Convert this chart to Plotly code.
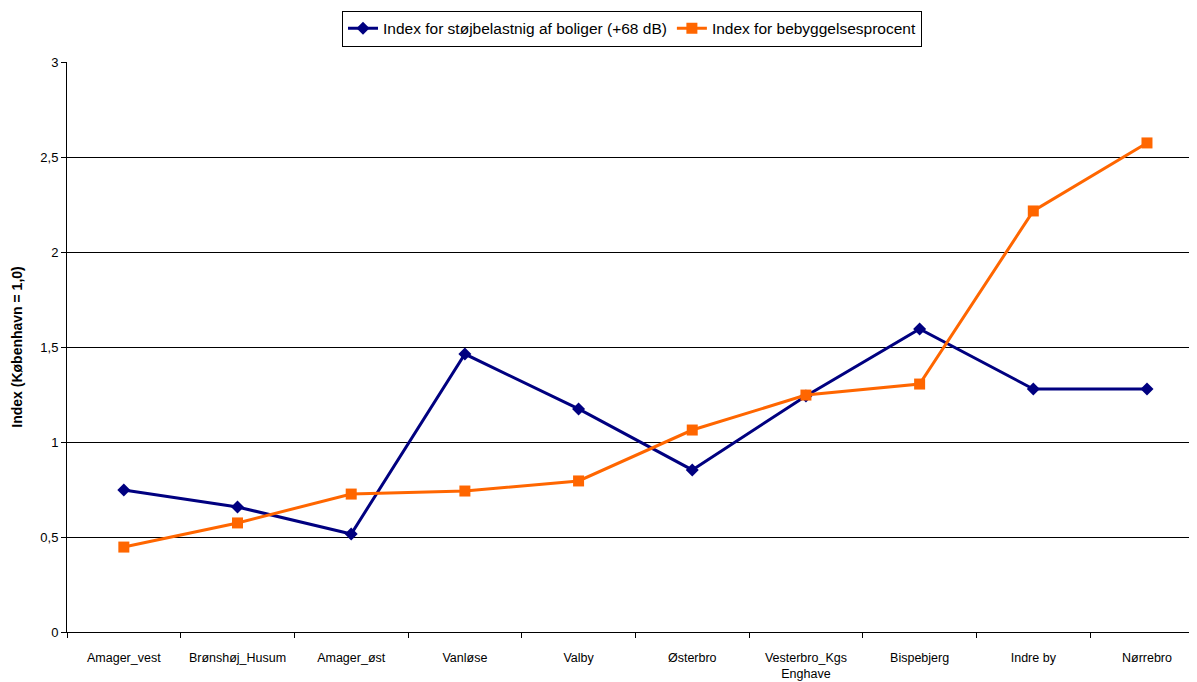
import plotly.graph_objects as go

categories = ["Amager_vest", "Brønshøj_Husum", "Amager_øst", "Vanløse", "Valby",
              "Østerbro", "Vesterbro_Kgs<br>Enghave", "Bispebjerg", "Indre by", "Nørrebro"]
noise_index = [0.747, 0.658, 0.516, 1.463, 1.174, 0.853, 1.242, 1.595, 1.279, 1.279]
density_index = [0.447, 0.574, 0.726, 0.742, 0.795, 1.063, 1.247, 1.305, 2.216, 2.574]
y_ticks = [0, 0.5, 1, 1.5, 2, 2.5, 3]
y_tick_text = ["0", "0,5", "1", "1,5", "2", "2,5", "3"]

fig = go.Figure()
fig.add_trace(go.Scatter(
    x=categories, y=noise_index, mode="lines+markers",
    name="Index for støjbelastnig af boliger (+68 dB)",
    line=dict(color="#000080", width=3),
    marker=dict(symbol="diamond", size=10, color="#000080"),
))
fig.add_trace(go.Scatter(
    x=categories, y=density_index, mode="lines+markers",
    name="Index for bebyggelsesprocent",
    line=dict(color="#FF6600", width=3),
    marker=dict(symbol="square", size=11, color="#FF6600"),
))

fig.update_layout(
    width=1189, height=674,
    margin=dict(l=59, r=0, t=54, b=50, autoexpand=False),
    paper_bgcolor="white", plot_bgcolor="white",
    font=dict(family="Liberation Sans, Arial, sans-serif", size=12, color="black"),
    showlegend=True,
    legend=dict(orientation="h", x=0.5, xanchor="center", y=0.996, yanchor="top",
                yref="container", bordercolor="black", borderwidth=1,
                font=dict(size=15.5), bgcolor="white", itemwidth=30),
)
fig.update_xaxes(
    type="category", range=[-0.5, 9.44], showgrid=False,
    showline=True, linecolor="black", linewidth=1,
    ticks="outside", tickson="boundaries", ticklen=5, tickcolor="black",
    tickfont=dict(size=12.5), ticklabelstandoff=14, fixedrange=True,
)
fig.update_yaxes(
    range=[0, 3], tickvals=y_ticks, ticktext=y_tick_text,
    showgrid=True, gridcolor="black", gridwidth=1,
    showline=True, linecolor="black", linewidth=1,
    ticks="outside", ticklen=5, tickcolor="black",
    tickfont=dict(size=13), zeroline=False,
    title=dict(text="<b>Index (København = 1,0)</b>", font=dict(size=14), standoff=14),
)
fig.write_html("out.html")
